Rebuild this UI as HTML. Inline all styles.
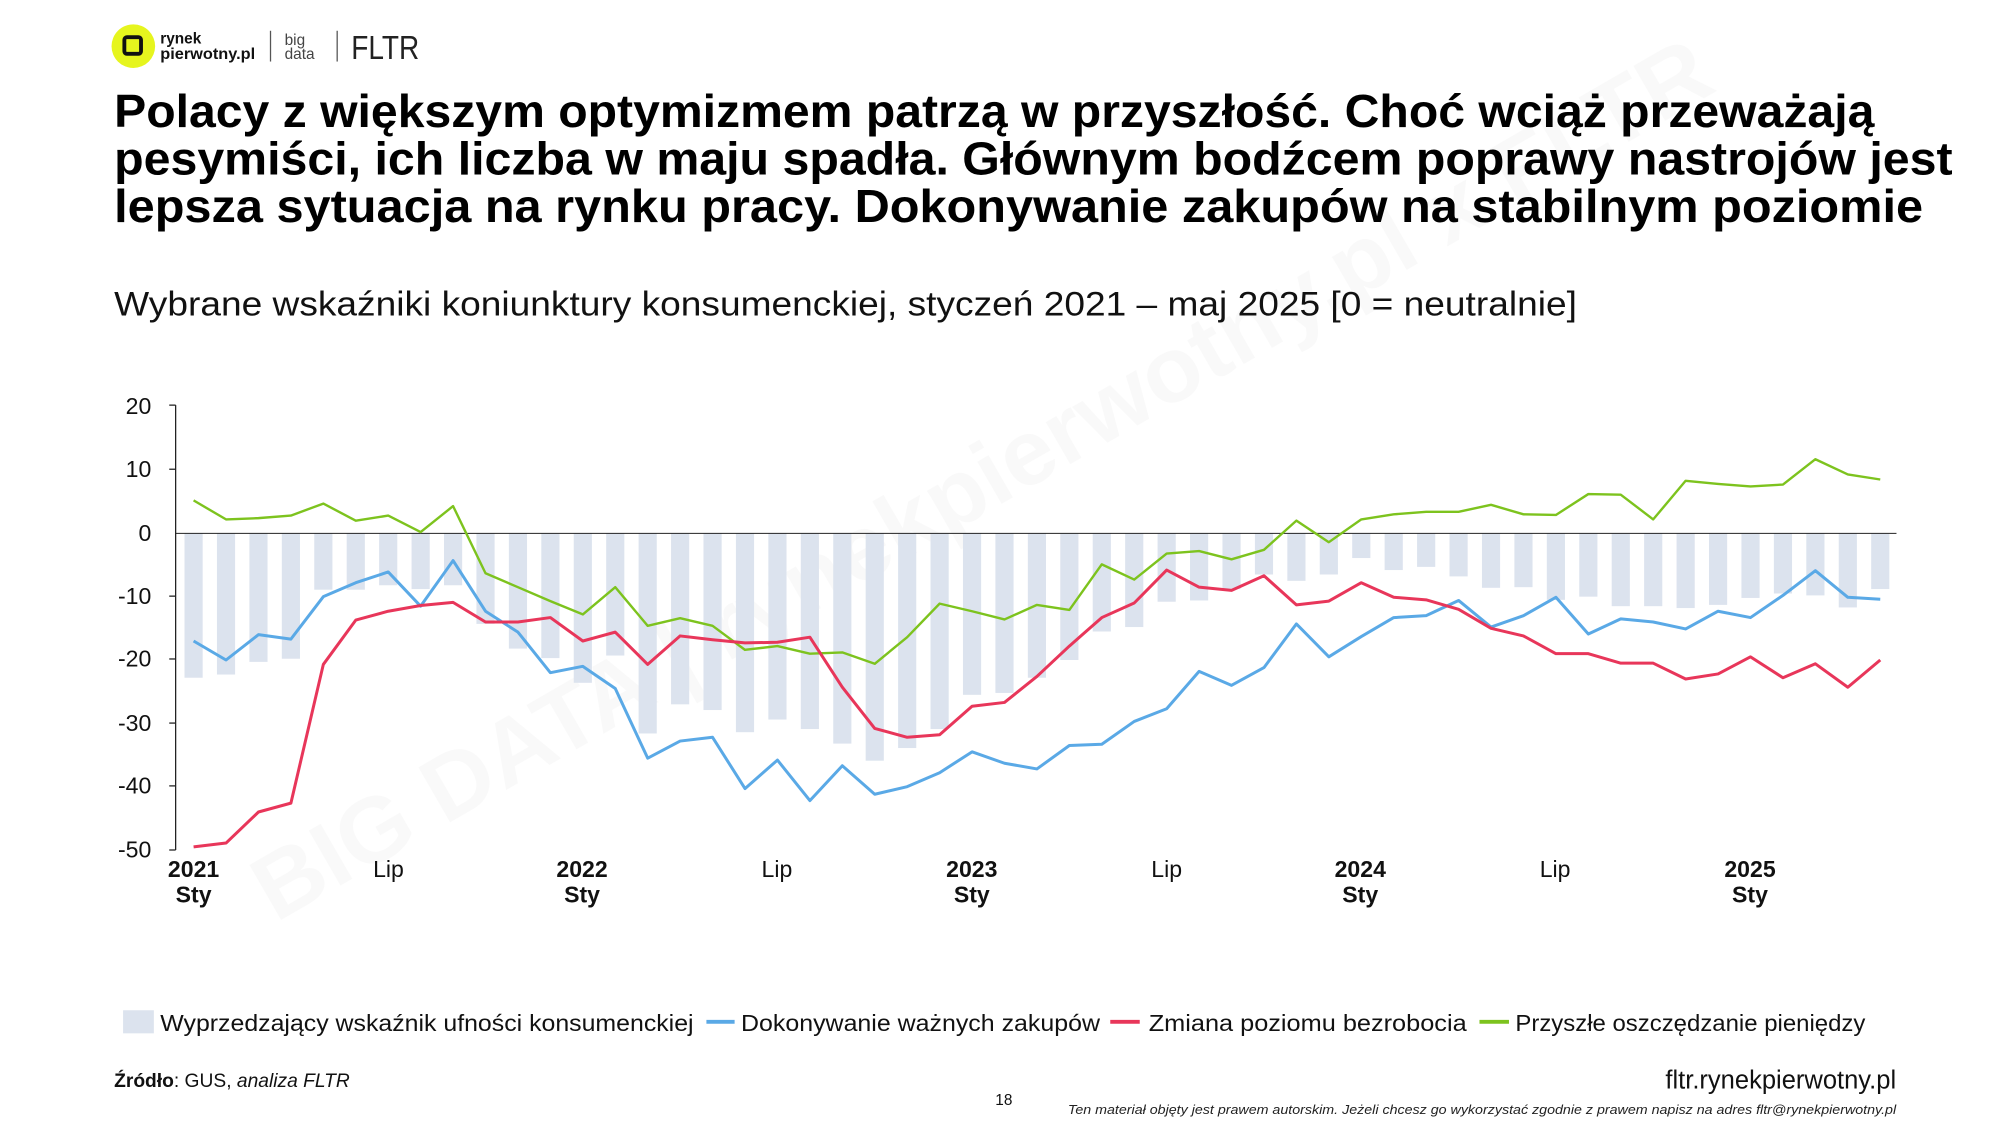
<!DOCTYPE html>
<html><head><meta charset="utf-8"><style>
html,body{margin:0;padding:0;background:#fff;}
svg{display:block;}
text{font-family:"Liberation Sans","DejaVu Sans",sans-serif;}
</style></head><body>
<svg width="2000" height="1125" viewBox="0 0 1560 877.5" preserveAspectRatio="none" xmlns="http://www.w3.org/2000/svg">
<rect width="1560" height="877.5" fill="#fff"/>
<text x="0" y="0" transform="translate(215,720) rotate(-30)" font-size="72" font-weight="bold" fill="#000" fill-opacity="0.022" textLength="1300" lengthAdjust="spacingAndGlyphs">BIG DATA  |  rynekpierwotny.pl x FLTR</text>
<circle cx="104" cy="36" r="17" fill="#e6f51e"/>
<rect x="97" y="29" width="13" height="13" rx="2" fill="none" stroke="#111" stroke-width="3"/>
<text x="125" y="34" font-size="12" font-weight="bold" fill="#111">rynek</text>
<text x="125" y="46" font-size="12" font-weight="bold" fill="#111" textLength="74" lengthAdjust="spacingAndGlyphs">pierwotny.pl</text>
<line x1="211" y1="24" x2="211" y2="48" stroke="#555" stroke-width="1"/>
<text x="222" y="35" font-size="12" fill="#444">big</text>
<text x="222" y="46" font-size="12" fill="#444">data</text>
<line x1="263" y1="24" x2="263" y2="48" stroke="#555" stroke-width="1"/>
<text x="274" y="46" font-size="26" fill="#222" textLength="53" lengthAdjust="spacingAndGlyphs">FLTR</text>
<g font-size="36" font-weight="bold" fill="#000">
<text x="89" y="99" textLength="1373" lengthAdjust="spacingAndGlyphs">Polacy z większym optymizmem patrzą w przyszłość. Choć wciąż przeważają</text>
<text x="89" y="136" textLength="1434" lengthAdjust="spacingAndGlyphs">pesymiści, ich liczba w maju spadła. Głównym bodźcem poprawy nastrojów jest</text>
<text x="89" y="173" textLength="1411" lengthAdjust="spacingAndGlyphs">lepsza sytuacja na rynku pracy. Dokonywanie zakupów na stabilnym poziomie</text>
</g>
<text x="89" y="246" font-size="27" fill="#111" textLength="1141" lengthAdjust="spacingAndGlyphs">Wybrane wskaźniki koniunktury konsumenckiej, styczeń 2021 – maj 2025 [0 = neutralnie]</text>
<g font-size="18" fill="#111" text-anchor="end">
<text x="118" y="323">20</text><text x="118" y="372">10</text><text x="118" y="422">0</text>
<text x="118" y="471">-10</text><text x="118" y="520">-20</text><text x="118" y="570">-30</text>
<text x="118" y="619">-40</text><text x="118" y="669">-50</text>
</g>
<line x1="137" y1="316" x2="137" y2="663" stroke="#222" stroke-width="1"/>
<g stroke="#222" stroke-width="1">
<line x1="132" y1="316" x2="137" y2="316"/><line x1="132" y1="366" x2="137" y2="366"/>
<line x1="132" y1="465" x2="137" y2="465"/><line x1="132" y1="514" x2="137" y2="514"/>
<line x1="132" y1="564" x2="137" y2="564"/><line x1="132" y1="613" x2="137" y2="613"/>
<line x1="132" y1="663" x2="137" y2="663"/>
</g>
<g transform="translate(151,416) scale(25.3,-4.94)">
<g fill="#dce3ee">
<rect x="-0.28" y="-22.8" width="0.56" height="22.8"/><rect x="0.72" y="-22.3" width="0.56" height="22.3"/>
<rect x="1.72" y="-20.3" width="0.56" height="20.3"/><rect x="2.72" y="-19.8" width="0.56" height="19.8"/>
<rect x="3.72" y="-8.9" width="0.56" height="8.9"/><rect x="4.72" y="-8.9" width="0.56" height="8.9"/>
<rect x="5.72" y="-8.2" width="0.56" height="8.2"/><rect x="6.72" y="-8.8" width="0.56" height="8.8"/>
<rect x="7.72" y="-8.2" width="0.56" height="8.2"/><rect x="8.72" y="-14.3" width="0.56" height="14.3"/>
<rect x="9.72" y="-18.2" width="0.56" height="18.2"/><rect x="10.72" y="-19.7" width="0.56" height="19.7"/>
<rect x="11.72" y="-23.6" width="0.56" height="23.6"/><rect x="12.72" y="-19.3" width="0.56" height="19.3"/>
<rect x="13.72" y="-31.6" width="0.56" height="31.6"/><rect x="14.72" y="-27" width="0.56" height="27"/>
<rect x="15.72" y="-27.9" width="0.56" height="27.9"/><rect x="16.72" y="-31.4" width="0.56" height="31.4"/>
<rect x="17.72" y="-29.4" width="0.56" height="29.4"/><rect x="18.72" y="-30.9" width="0.56" height="30.9"/>
<rect x="19.72" y="-33.2" width="0.56" height="33.2"/><rect x="20.72" y="-35.9" width="0.56" height="35.9"/>
<rect x="21.72" y="-33.9" width="0.56" height="33.9"/><rect x="22.72" y="-30.9" width="0.56" height="30.9"/>
<rect x="23.72" y="-25.5" width="0.56" height="25.5"/><rect x="24.72" y="-25.2" width="0.56" height="25.2"/>
<rect x="25.72" y="-22.8" width="0.56" height="22.8"/><rect x="26.72" y="-20" width="0.56" height="20"/>
<rect x="27.72" y="-15.5" width="0.56" height="15.5"/><rect x="28.72" y="-14.8" width="0.56" height="14.8"/>
<rect x="29.72" y="-10.8" width="0.56" height="10.8"/><rect x="30.72" y="-10.6" width="0.56" height="10.6"/>
<rect x="31.72" y="-8.8" width="0.56" height="8.8"/><rect x="32.72" y="-6.5" width="0.56" height="6.5"/>
<rect x="33.72" y="-7.5" width="0.56" height="7.5"/><rect x="34.72" y="-6.5" width="0.56" height="6.5"/>
<rect x="35.72" y="-3.9" width="0.56" height="3.9"/><rect x="36.72" y="-5.8" width="0.56" height="5.8"/>
<rect x="37.72" y="-5.3" width="0.56" height="5.3"/><rect x="38.72" y="-6.8" width="0.56" height="6.8"/>
<rect x="39.72" y="-8.6" width="0.56" height="8.6"/><rect x="40.72" y="-8.5" width="0.56" height="8.5"/>
<rect x="41.72" y="-10.5" width="0.56" height="10.5"/><rect x="42.72" y="-10" width="0.56" height="10"/>
<rect x="43.72" y="-11.5" width="0.56" height="11.5"/><rect x="44.72" y="-11.5" width="0.56" height="11.5"/>
<rect x="45.72" y="-11.8" width="0.56" height="11.8"/><rect x="46.72" y="-11.3" width="0.56" height="11.3"/>
<rect x="47.72" y="-10.2" width="0.56" height="10.2"/><rect x="48.72" y="-9.5" width="0.56" height="9.5"/>
<rect x="49.72" y="-9.8" width="0.56" height="9.8"/><rect x="50.72" y="-11.7" width="0.56" height="11.7"/>
<rect x="51.72" y="-8.8" width="0.56" height="8.8"/>
</g>
<line x1="-0.55" y1="0" x2="52.5" y2="0" stroke="#222" stroke-width="1" vector-effect="non-scaling-stroke"/>
<g fill="none" stroke-linejoin="round">
<polyline vector-effect="non-scaling-stroke" stroke="#7dc31e" stroke-width="2.4" points="0,5.2 1,2.2 2,2.4 3,2.8 4,4.7 5,2 6,2.8 7,0.2 8,4.3 9,-6.3 10,-8.5 11,-10.7 12,-12.8 13,-8.5 14,-14.6 15,-13.4 16,-14.6 17,-18.4 18,-17.8 19,-19 20,-18.8 21,-20.6 22,-16.4 23,-11.1 24,-12.3 25,-13.6 26,-11.3 27,-12.1 28,-4.9 29,-7.3 30,-3.2 31,-2.8 32,-4.1 33,-2.6 34,2 35,-1.4 36,2.2 37,3 38,3.4 39,3.4 40,4.5 41,3 42,2.9 43,6.2 44,6.1 45,2.2 46,8.3 47,7.8 48,7.4 49,7.7 50,11.7 51,9.3 52,8.5"/>
<polyline vector-effect="non-scaling-stroke" stroke="#5aa9e6" stroke-width="3" points="0,-17 1,-20 2,-16 3,-16.7 4,-10 5,-7.8 6,-6.1 7,-11.5 8,-4.3 9,-12.3 10,-15.6 11,-22 12,-21 13,-24.5 14,-35.5 15,-32.8 16,-32.2 17,-40.3 18,-35.8 19,-42.2 20,-36.7 21,-41.2 22,-40 23,-37.8 24,-34.5 25,-36.3 26,-37.2 27,-33.5 28,-33.3 29,-29.7 30,-27.7 31,-21.8 32,-24 33,-21.2 34,-14.3 35,-19.5 36,-16.3 37,-13.3 38,-13 39,-10.6 40,-14.8 41,-13 42,-10.1 43,-15.9 44,-13.5 45,-14 46,-15.1 47,-12.3 48,-13.3 49,-9.8 50,-5.9 51,-10.1 52,-10.4"/>
<polyline vector-effect="non-scaling-stroke" stroke="#e8365a" stroke-width="3" points="0,-49.5 1,-48.9 2,-44 3,-42.6 4,-20.7 5,-13.7 6,-12.3 7,-11.4 8,-10.9 9,-14 10,-14 11,-13.3 12,-17 13,-15.6 14,-20.7 15,-16.2 16,-16.8 17,-17.3 18,-17.2 19,-16.4 20,-24.3 21,-30.8 22,-32.2 23,-31.8 24,-27.3 25,-26.7 26,-22.6 27,-17.8 28,-13.3 29,-11 30,-5.8 31,-8.5 32,-9 33,-6.7 34,-11.3 35,-10.7 36,-7.8 37,-10.1 38,-10.5 39,-12 40,-15 41,-16.2 42,-19 43,-19 44,-20.5 45,-20.5 46,-23 47,-22.2 48,-19.5 49,-22.8 50,-20.6 51,-24.3 52,-20"/>
</g>
</g>
<g font-size="18" fill="#111" text-anchor="middle">
<text x="151" y="684" font-weight="bold">2021</text><text x="151" y="704" font-weight="bold">Sty</text>
<text x="303" y="684">Lip</text>
<text x="454" y="684" font-weight="bold">2022</text><text x="454" y="704" font-weight="bold">Sty</text>
<text x="606" y="684">Lip</text>
<text x="758" y="684" font-weight="bold">2023</text><text x="758" y="704" font-weight="bold">Sty</text>
<text x="910" y="684">Lip</text>
<text x="1061" y="684" font-weight="bold">2024</text><text x="1061" y="704" font-weight="bold">Sty</text>
<text x="1213" y="684">Lip</text>
<text x="1365" y="684" font-weight="bold">2025</text><text x="1365" y="704" font-weight="bold">Sty</text>
</g>
<rect x="96" y="788" width="24" height="18" fill="#dce3ee"/>
<g font-size="18" fill="#111">
<text x="125" y="804" textLength="416" lengthAdjust="spacingAndGlyphs">Wyprzedzający wskaźnik ufności konsumenckiej</text>
<line x1="551" y1="797" x2="573" y2="797" stroke="#5aa9e6" stroke-width="3"/>
<text x="578" y="804" textLength="280" lengthAdjust="spacingAndGlyphs">Dokonywanie ważnych zakupów</text>
<line x1="866" y1="797" x2="889" y2="797" stroke="#e8365a" stroke-width="3"/>
<text x="896" y="804" textLength="248" lengthAdjust="spacingAndGlyphs">Zmiana poziomu bezrobocia</text>
<line x1="1154" y1="797" x2="1177" y2="797" stroke="#7dc31e" stroke-width="3"/>
<text x="1182" y="804" textLength="273" lengthAdjust="spacingAndGlyphs">Przyszłe oszczędzanie pieniędzy</text>
</g>
<text x="89" y="848" font-size="15" fill="#111"><tspan font-weight="bold">Źródło</tspan>: GUS, <tspan font-style="italic">analiza FLTR</tspan></text>
<text x="1479" y="849" font-size="20" fill="#111" text-anchor="end" textLength="180" lengthAdjust="spacingAndGlyphs">fltr.rynekpierwotny.pl</text>
<text x="783" y="862" font-size="12" fill="#111" text-anchor="middle">18</text>
<text x="1479" y="869" font-size="10" font-style="italic" fill="#222" text-anchor="end" textLength="646" lengthAdjust="spacingAndGlyphs">Ten materiał objęty jest prawem autorskim. Jeżeli chcesz go wykorzystać zgodnie z prawem napisz na adres fltr@rynekpierwotny.pl</text>
</svg>
</body></html>
